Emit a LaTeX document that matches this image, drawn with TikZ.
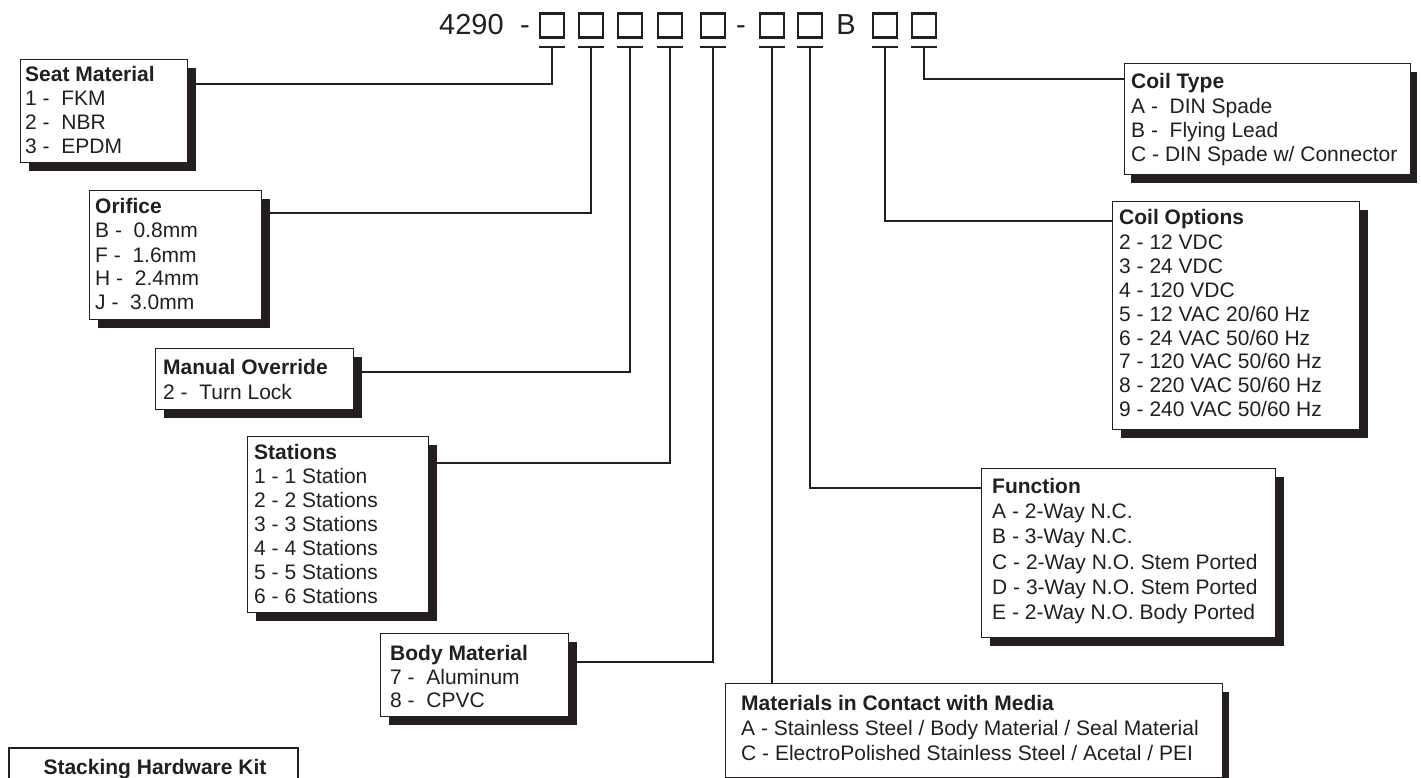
\documentclass[tikz,border=0pt]{standalone}
\usepackage{fontspec}
\setmainfont{Liberation Sans}
\usetikzlibrary{shadows}
\definecolor{ink}{HTML}{231F20}
\begin{document}
\begin{tikzpicture}[x=1pt,y=-1pt,
  panel/.style={draw=ink, line width=1.2pt, fill=white, anchor=north west, inner sep=0pt,
    drop shadow={shadow xshift=8pt, shadow yshift=-8pt, opacity=1, fill=ink}},
  panelnarrow/.style={draw=ink, line width=1.2pt, fill=white, anchor=north west, inner sep=0pt,
    drop shadow={shadow xshift=6pt, shadow yshift=-8pt, opacity=1, fill=ink}},
  kitbox/.style={draw=ink, line width=2.4pt, fill=white, anchor=north west, inner sep=0pt},
  ttl/.style={anchor=base west, inner sep=0pt, text=ink, font=\bfseries\fontsize{21}{25}\selectfont},
  itm/.style={anchor=base west, inner sep=0pt, text=ink, font=\fontsize{21}{25}\selectfont},
  hdr/.style={anchor=base, inner sep=0pt, text=ink, font=\fontsize{29}{32}\selectfont},
  slot/.style={draw=ink, line width=2.2pt, minimum width=24pt, minimum height=24pt, inner sep=0pt},
  wire/.style={draw=ink, line width=2.2pt},
]
\useasboundingbox (0,0) rectangle (1421,778);
\clip (0,0) rectangle (1421,778);
\fill[white] (0,0) rectangle (1421,778);

% ---------- header ----------
\node[hdr, anchor=base west] (code) at (439,35) {4290};
\node[hdr] (d1) at (525,35) {-};
\node[slot] (b1) at (552,25.5) {};
\node[slot] (b2) at (591,25.5) {};
\node[slot] (b3) at (630,25.5) {};
\node[slot] (b4) at (670,25.5) {};
\node[slot] (b5) at (713,25.5) {};
\node[hdr] (d2) at (741,35) {-};
\node[slot] (b6) at (772,25.5) {};
\node[slot] (b7) at (810,25.5) {};
\node[hdr] (bb) at (846,35) {B};
\node[slot] (b8) at (885,25.5) {};
\node[slot] (b9) at (924,25.5) {};

\foreach \i/\x in {1/552,2/591,3/630,4/670,5/713,6/772,7/810,8/885,9/924}{
  \coordinate (t\i) at (\x,47);
  \draw[wire] ([xshift=-13pt]t\i) -- ([xshift=13pt]t\i);
}

% ---------- panels (placed first, connectors drawn behind later via layers order) ----------
\node[panel, minimum width=167pt, minimum height=103pt] (seat) at (20,59) {};
\node[panel, minimum width=172pt, minimum height=129pt] (orif) at (89,190) {};
\node[panel, minimum width=198pt, minimum height=61pt] (man) at (155,348) {};
\node[panel, minimum width=181pt, minimum height=176pt] (stat) at (247,436) {};
\node[panel, minimum width=188pt, minimum height=83pt] (body) at (380,633) {};
\node[panelnarrow, minimum width=497pt, minimum height=94pt] (mat) at (725,683) {};
\node[panel, minimum width=294pt, minimum height=169pt] (func) at (981,468) {};
\node[panel, minimum width=247pt, minimum height=228pt] (copt) at (1112,201) {};
\node[panelnarrow, minimum width=286pt, minimum height=111pt] (ctype) at (1124,63) {};
\node[kitbox, minimum width=289pt, minimum height=60pt] (kit) at (8,747) {};

% ---------- connectors ----------
\draw[wire] (t1) |- ([yshift=-25pt]seat.north east);
\draw[wire] (t2) |- ([yshift=-23pt]orif.north east);
\draw[wire] (t3) |- ([yshift=-24pt]man.north east);
\draw[wire] (t4) |- ([yshift=-27pt]stat.north east);
\draw[wire] (t5) |- ([yshift=-29pt]body.north east);
\draw[wire] (t6) -- (t6 |- mat.north);
\draw[wire] (t7) |- ([yshift=-20pt]func.north west);
\draw[wire] (t8) |- ([yshift=-20pt]copt.north west);
\draw[wire] (t9) |- ([yshift=-16pt]ctype.north west);

% ---------- texts ----------
\node[ttl] (seat-h) at (25,82) {Seat Material};
\node[itm] (seat-1) at (25,106) {1 -\ \ FKM};
\node[itm] (seat-2) at (25,130) {2 -\ \ NBR};
\node[itm] (seat-3) at (25,154) {3 -\ \ EPDM};

\node[ttl] (orif-h) at (95,214) {Orifice};
\node[itm] (orif-1) at (95,237) {B -\ \ 0.8mm};
\node[itm] (orif-2) at (95,262) {F -\ \ 1.6mm};
\node[itm] (orif-3) at (95,285) {H -\ \ 2.4mm};
\node[itm] (orif-4) at (95,309) {J -\ \ 3.0mm};

\node[ttl] (man-h) at (163,374) {Manual Override};
\node[itm] (man-1) at (163,399) {2 -\ \ Turn Lock};

\node[ttl] (stat-h) at (254,459) {Stations};
\node[itm] (stat-1) at (254,483) {1 - 1 Station};
\node[itm] (stat-2) at (254,507) {2 - 2 Stations};
\node[itm] (stat-3) at (254,531) {3 - 3 Stations};
\node[itm] (stat-4) at (254,555) {4 - 4 Stations};
\node[itm] (stat-5) at (254,579) {5 - 5 Stations};
\node[itm] (stat-6) at (254,603) {6 - 6 Stations};

\node[ttl] (body-h) at (390,660) {Body Material};
\node[itm] (body-1) at (390,684) {7 -\ \ Aluminum};
\node[itm] (body-2) at (390,707) {8 -\ \ CPVC};

\node[ttl] (mat-h) at (741,710) {Materials in Contact with Media};
\node[itm] (mat-1) at (741,735) {A - Stainless Steel / Body Material / Seal Material};
\node[itm] (mat-2) at (741,760) {C - ElectroPolished Stainless Steel / Acetal / PEI};

\node[ttl] (func-h) at (992,493) {Function};
\node[itm] (func-1) at (992,518) {A - 2-Way N.C.};
\node[itm] (func-2) at (992,543) {B - 3-Way N.C.};
\node[itm] (func-3) at (992,569) {C - 2-Way N.O. Stem Ported};
\node[itm] (func-4) at (992,594) {D - 3-Way N.O. Stem Ported};
\node[itm] (func-5) at (992,619) {E - 2-Way N.O. Body Ported};

\node[ttl] (copt-h) at (1119,225) {Coil Options};
\node[itm] (copt-1) at (1119,249) {2 - 12 VDC};
\node[itm] (copt-2) at (1119,273) {3 - 24 VDC};
\node[itm] (copt-3) at (1119,297) {4 - 120 VDC};
\node[itm] (copt-4) at (1119,321) {5 - 12 VAC 20/60 Hz};
\node[itm] (copt-5) at (1119,345) {6 - 24 VAC 50/60 Hz};
\node[itm] (copt-6) at (1119,368) {7 - 120 VAC 50/60 Hz};
\node[itm] (copt-7) at (1119,392) {8 - 220 VAC 50/60 Hz};
\node[itm] (copt-8) at (1119,416) {9 - 240 VAC 50/60 Hz};

\node[ttl] (ctype-h) at (1131,89) {Coil Type};
\node[itm] (ctype-1) at (1131,114) {A -\ \ DIN Spade};
\node[itm] (ctype-2) at (1131,138) {B -\ \ Flying Lead};
\node[itm] (ctype-3) at (1131,162) {C - DIN Spade w/ Connector};

\node[ttl, anchor=base] (kit-h) at (155,774) {Stacking Hardware Kit};
\end{tikzpicture}
\end{document}
